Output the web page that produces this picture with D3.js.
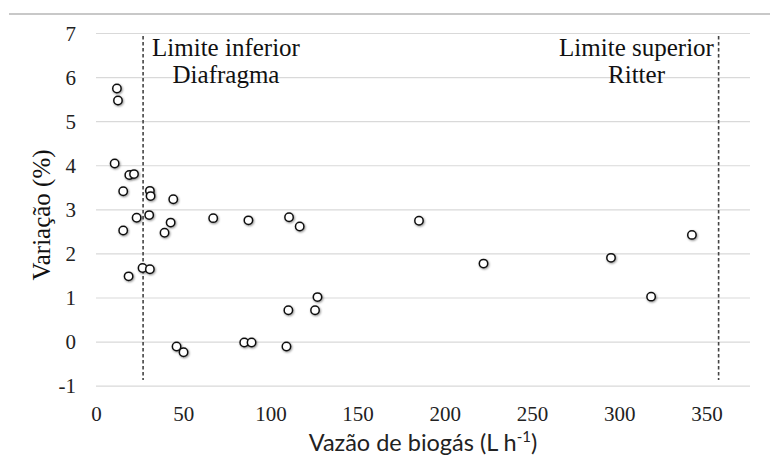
<!DOCTYPE html>
<html><head><meta charset="utf-8">
<script src="https://cdn.jsdelivr.net/npm/d3@7"></script>
<style>html,body{margin:0;padding:0;background:#fff;}</style>
</head><body>
<script>
const flowX = [12.0,12.6,10.7,19.1,21.8,15.6,30.9,31.3,44.3,23.3,30.5,67.2,87.4,110.7,116.8,42.8,
  15.6,39.3,18.7,26.7,30.9,46.2,50.2,85.0,89.2,109.2,110.3,125.6,127.0,
  185.2,222.2,295.3,318.3,341.7];
const variationY = [5.74,5.47,4.04,3.78,3.80,3.41,3.42,3.30,3.23,2.81,2.87,2.80,2.75,2.82,2.61,2.70,
  2.52,2.47,1.48,1.67,1.64,-0.11,-0.24,-0.02,-0.02,-0.11,0.71,0.71,1.01,
  2.74,1.77,1.90,1.02,2.42];
const xTicks = [0,50,100,150,200,250,300,350];
const yTicks = [-1,0,1,2,3,4,5,6,7];
const limits = [27, 357];
const limitLabels = [["Limite inferior","Diafragma"],["Limite superior","Ritter"]];

const SERIF = '"Liberation Serif"';
const W = 770, H = 457;
const svg = d3.select("body").append("svg").attr("width", W).attr("height", H);

const defs = svg.append("defs");
const f = defs.append("filter").attr("id","sh").attr("x","-50%").attr("y","-50%").attr("width","200%").attr("height","200%");
f.append("feDropShadow").attr("dx",0.8).attr("dy",1).attr("stdDeviation",0.9).attr("flood-color","#000").attr("flood-opacity",0.45);

const x = d3.scaleLinear().domain([0,375]).range([96,750]);
const y = d3.scaleLinear().domain([-1,7]).range([385.7,33]);

svg.append("line").attr("x1",9).attr("x2",770).attr("y1",14).attr("y2",14)
  .attr("stroke","#c8c8c8").attr("stroke-width",2);

const yAxis = d3.axisLeft(y).tickValues(yTicks).tickSize(-(x.range()[1]-x.range()[0])).tickPadding(20)
  .tickFormat(d=>String(d));
const gy = svg.append("g").attr("transform",`translate(${x.range()[0]},0)`).call(yAxis);
gy.select(".domain").remove();
gy.selectAll(".tick line").attr("stroke","#d9d9d9").attr("stroke-width",1.2);
gy.selectAll(".tick text").style("font-family",SERIF).style("font-size","21px").attr("fill","#222").attr("dy","0.34em");

const xAxis = d3.axisBottom(x).tickValues(xTicks).tickSize(0).tickPadding(20).tickFormat(d=>String(d));
const gx = svg.append("g").attr("transform",`translate(0,${y(-1)})`).call(xAxis);
gx.select(".domain").remove();
gx.selectAll(".tick text").style("font-family",SERIF).style("font-size","21px").attr("fill","#222").attr("dy","0.71em");

svg.selectAll(".lim").data(limits).enter().append("line")
  .attr("x1",d=>x(d)).attr("x2",d=>x(d)).attr("y1",y(6.93)).attr("y2",y(-0.87))
  .attr("stroke","#444").attr("stroke-width",1.6).attr("stroke-dasharray","3.5,2.5");

const lblCenters = [226, 636.5];
limitLabels.forEach((lines,i)=>{
  const t = svg.append("text").style("font-family",SERIF).style("font-size","25px").attr("text-anchor","middle").attr("fill","#111");
  lines.forEach((s,j)=>{
    t.append("tspan").attr("x",lblCenters[i]).attr("y",56+j*27).text(s);
  });
});

const pts = flowX.map((v,i)=>({x:v,y:variationY[i]}));
svg.append("g").selectAll("circle").data(pts).enter().append("circle")
  .attr("cx",d=>x(d.x)).attr("cy",d=>y(d.y)).attr("r",4.2)
  .attr("fill","#fff").attr("stroke","#111").attr("stroke-width",1.5)
  .attr("filter","url(#sh)");

svg.append("text").style("font-family",SERIF).style("font-size","25px")
  .attr("transform",`translate(50,215) rotate(-90)`).attr("text-anchor","middle")
  .attr("fill","#111").text("Variação (%)");

const xt = svg.append("text").attr("x",423).attr("y",451).attr("text-anchor","middle")
  .style("font-family","Lato").style("font-size","23.5px").attr("fill","#222");
xt.append("tspan").text("Vazão de biogás (L h");
xt.append("tspan").style("font-size","15px").attr("dy",-9).text("-1");
xt.append("tspan").attr("dy",9).text(")");
</script>
</body></html>
